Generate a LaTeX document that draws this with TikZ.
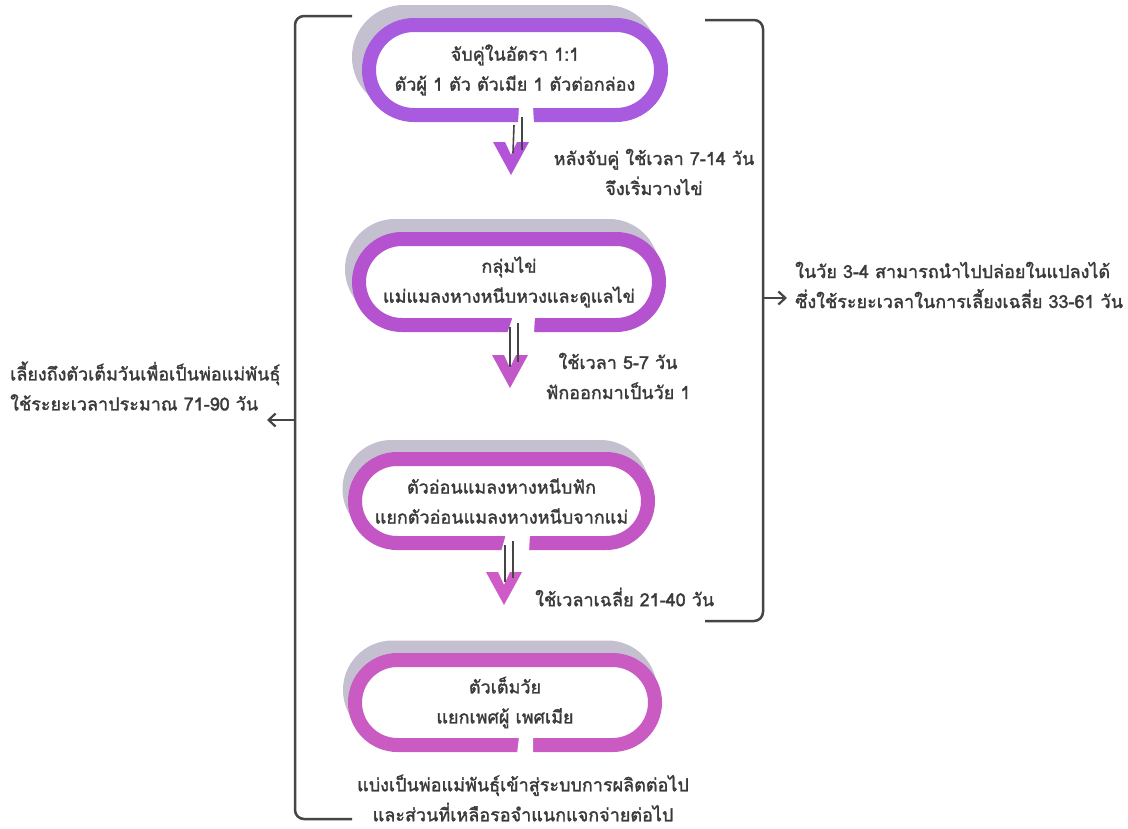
\documentclass[tikz,border=0pt]{standalone}
\usepackage{fontspec}
\newfontfamily\thai[Script=Thai, FakeBold=1.6]{Loma}
\usetikzlibrary{shapes.misc,arrows.meta,calc}
\definecolor{textc}{HTML}{3A3A3A}
\definecolor{linec}{HTML}{454545}
\definecolor{shadowc}{HTML}{C4C0D0}
\definecolor{ringa}{HTML}{A95BE0}
\definecolor{ringb}{HTML}{B552D0}
\definecolor{ringc}{HTML}{C455C4}
\definecolor{ringd}{HTML}{C95BC3}
\definecolor{cheva}{HTML}{B353D8}
\definecolor{chevb}{HTML}{C257CA}
\definecolor{chevc}{HTML}{CF5CC6}
\begin{document}
\begin{tikzpicture}[x=1pt,y=-1pt,
  txt/.style={font=\thai\fontsize{18}{30}\selectfont, text=textc, align=center, inner sep=0pt},
  box/.style={rounded rectangle, line width=14pt, fill=white, inner sep=0pt,
    font=\thai\fontsize{18}{30}\selectfont, text=textc, align=center},
  shadowbox/.style={rounded rectangle, line width=14pt, fill=shadowc, draw=shadowc, inner sep=0pt},
  brk/.style={draw=linec, line width=2.5pt, rounded corners=9pt},
  conn/.style={draw=linec, line width=1.6pt},
  gapfill/.style={fill=white},
  tip/.style={-{Straight Barb[length=7pt,width=13pt,line width=2.2pt]}}]
\useasboundingbox[fill=white] (0,0) rectangle (1128,828);

% ---- shadows
\node[shadowbox, minimum width=292pt, minimum height=90pt] (s1) at (505,57) {};
\node[shadowbox, minimum width=300pt, minimum height=86pt] (s2) at (502,269) {};
\node[shadowbox, minimum width=293pt, minimum height=84pt] (s3) at (496,489) {};
\node[shadowbox, minimum width=300pt, minimum height=85pt] (s4) at (500,690) {};

% ---- boxes
\node[box, draw=ringa, minimum width=292pt, minimum height=90pt] (b1) at (515,70)
  {จับคู่ในอัตรา 1:1\\ตัวผู้ 1 ตัว ตัวเมีย 1 ตัวต่อกล่อง};
\node[box, draw=ringb, minimum width=300pt, minimum height=86pt] (b2) at (509,282)
  {กลุ่มไข่\\แม่แมลงหางหนีบหวงและดูแลไข่};
\node[box, draw=ringc, minimum width=293pt, minimum height=84pt] (b3) at (501.5,501)
  {ตัวอ่อนแมลงหางหนีบฟัก\\แยกตัวอ่อนแมลงหางหนีบจากแม่};
\node[box, draw=ringd, minimum width=300pt, minimum height=85pt] (b4) at (505,702.5)
  {ตัวเต็มวัย\\แยกเพศผู้ เพศเมีย};

% ---- gaps in rings
\fill[gapfill] (519,106) -- (533,106) -- (534,124) -- (518,124) -- cycle;
\fill[gapfill] (513,316) -- (535,316) -- (534,334) -- (507,334) -- cycle;
\fill[gapfill] (506,534) -- (530,534) -- (529,552) -- (501,552) -- cycle;
\fill[gapfill] (519,737) -- (533,737) -- (533,754) -- (517,754) -- cycle;

% ---- arrow heads (chevrons)
\coordinate (c1) at (511,142);
\coordinate (c2) at (510,355);
\coordinate (c3) at (504,572);
\foreach \c/\col in {c1/cheva, c2/chevb, c3/chevc}{
  \fill[\col] ($(\c)+(-18,0)$) -- ($(\c)+(-6,0)$) -- ($(\c)+(0,13)$) -- ($(\c)+(6,0)$)
     -- ($(\c)+(18,0)$) -- ($(\c)+(0,33)$) -- cycle;
}

% ---- double connector lines
\draw[conn] ($(b1.south)+(-1,3)$) -- ($(c1)+(2,11)$);
\draw[conn] ($(b1.south)+(7,-5)$) -- ($(c1)+(11,8)$);
\draw[conn] ($(b2.south)+(1,-5)$) -- ($(c2)+(0,12)$);
\draw[conn] ($(b2.south)+(9,-9)$) -- ($(c2)+(8,7)$);
\draw[conn] ($(b3.south)+(3.5,-5)$) -- ($(c3)+(1,10)$);
\draw[conn] ($(b3.south)+(11.5,-9)$) -- ($(c3)+(9,6)$);

% ---- labels beside arrows
\node[txt] (l1) at (654,172) {หลังจับคู่ ใช้เวลา 7-14 วัน\\จึงเริ่มวางไข่};
\node[txt] (l2) at (618,376) {ใช้เวลา 5-7 วัน\\ฟักออกมาเป็นวัย 1};
\node[txt, anchor=west] (l3) at (535,597) {ใช้เวลาเฉลี่ย 21-40 วัน};
\node[txt] (l4) at (523,798) {แบ่งเป็นพ่อแม่พันธุ์เข้าสู่ระบบการผลิตต่อไป\\และส่วนที่เหลือรอจำแนกแจกจ่ายต่อไป};

% ---- brackets
\draw[brk] (352,16) -- (295,16) -- (295,819) -- (352,819);
\draw[brk] (705,20) -- (763,20) -- (763,621) -- (705,621);
\coordinate (lb) at (295,420);
\coordinate (rb) at (763,298);
\node[txt, anchor=west, align=left] (lt) at (10,386) {เลี้ยงถึงตัวเต็มวันเพื่อเป็นพ่อแม่พันธุ์\\ใช้ระยะเวลาประมาณ 71-90 วัน};
\node[txt, anchor=west, align=left] (rt) at (795,285) {ในวัย 3-4 สามารถนำไปปล่อยในแปลงได้\\ซึ่งใช้ระยะเวลาในการเลี้ยงเฉลี่ย 33-61 วัน};
\draw[linec, line width=2.5pt, tip] (lb) -- (267,420);
\draw[linec, line width=2.5pt, tip] (rb) -- (787,298);
\end{tikzpicture}
\end{document}
